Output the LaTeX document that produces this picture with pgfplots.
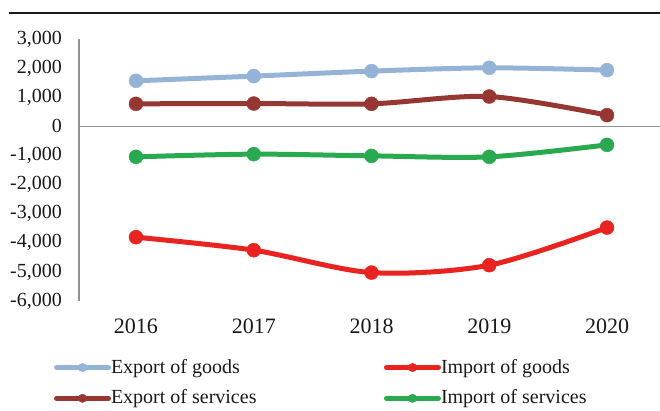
\documentclass[border=0pt]{standalone}
\usepackage{pgfplots}
\pgfplotsset{compat=1.18}
\usepackage{fontspec}
\setmainfont{Liberation Serif}
\definecolor{cEG}{RGB}{149,179,215}
\definecolor{cES}{RGB}{150,55,52}
\definecolor{cIG}{RGB}{232,35,32}
\definecolor{cIS}{RGB}{42,170,80}
\definecolor{axgray}{RGB}{145,145,145}
\begin{document}
\fontsize{20bp}{24bp}\selectfont
\begin{tikzpicture}
\path[use as bounding box] (0,0) rectangle (660bp,411bp);
\draw[line width=2.2bp, black!90] (9bp,398bp) -- (660bp,398bp);
\begin{axis}[
  at={(79bp,110bp)}, anchor=south west,
  scale only axis, width=581bp, height=262bp,
  xmin=-0.484, xmax=4.45, ymin=-6000, ymax=3000,
  xtick={0,1,2,3,4}, xticklabels={2016,2017,2018,2019,2020},
  ytick={-6000,-5000,...,3000},
  axis x line*=bottom, axis y line*=left,
  x axis line style={draw=none},
  y axis line style={draw=axgray, line width=1.3bp},
  major tick length=0pt,
  /pgf/number format/.cd, 1000 sep={,}, assume math mode=true, /pgfplots/.cd,
  yticklabel style={font=\fontsize{20bp}{24bp}\selectfont, anchor=east, inner sep=0pt, xshift=-17bp, text=black!90},
  xticklabel style={font=\fontsize{22bp}{24bp}\selectfont, anchor=north, inner sep=0pt, yshift=-18bp, text=black!90},
  clip=false,
  every axis plot/.append style={line width=5bp, smooth, tension=0.5, mark=*, mark size=7bp},
  legend columns=2,
  legend cell align=left,
  legend style={at={(-0.043,-0.2214)}, anchor=north west, draw=none, fill=none,
    inner sep=0pt, outer sep=0pt, row sep=13.7bp,
    font=\fontsize{20bp}{24bp}\selectfont, text=black!90,
    nodes={inner sep=0pt, outer sep=0pt},
    /tikz/every even column/.append style={column sep=127.5bp}},
  legend image code/.code={\draw[mark repeat=2,mark phase=2,#1,mark size=4.2bp,line cap=round] plot coordinates {(0bp,0bp) (26bp,0bp) (52bp,0bp)};},
]
\draw[axgray, line width=1.3bp] (axis cs:-0.484,0) -- (axis cs:4.45,0);
\addplot[cEG, mark options={fill=cEG, draw=cEG, line width=0.4bp}] coordinates {(0,1564) (1,1725) (2,1897) (3,2010) (4,1931)};
\addlegendentry{Export of goods}
\addplot[cIG, mark options={fill=cIG, draw=cIG, line width=0.4bp}] coordinates {(0,-3808) (1,-4254) (2,-5024) (3,-4770) (4,-3478)};
\addlegendentry{Import of goods}
\addplot[cES, mark options={fill=cES, draw=cES, line width=0.4bp}] coordinates {(0,773) (1,784) (2,773) (3,1024) (4,385)};
\addlegendentry{Export of services}
\addplot[cIS, mark options={fill=cIS, draw=cIS, line width=0.4bp}] coordinates {(0,-1048) (1,-955) (2,-1014) (3,-1048) (4,-636)};
\addlegendentry{Import of services}
\end{axis}
\end{tikzpicture}
\end{document}
